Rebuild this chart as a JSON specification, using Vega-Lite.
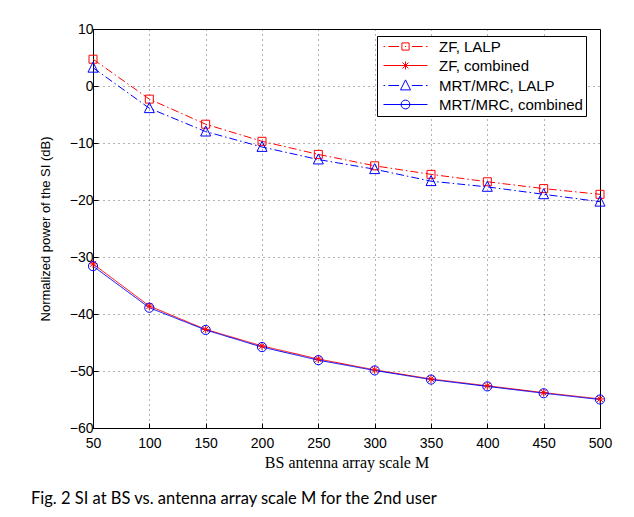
{
  "$schema": "https://vega.github.io/schema/vega-lite/v6.json",
  "width": 507,
  "height": 399,
  "autosize": "none",
  "padding": {"left": 93, "top": 29, "right": 34, "bottom": 89},
  "background": "white",
  "config": {
    "view": {"stroke": "black", "strokeWidth": 1},
    "axis": {
      "grid": true,
      "gridDash": [1, 4],
      "gridColor": "#000000",
      "gridOpacity": 0.6,
      "tickSize": -5,
      "tickColor": "#000000",
      "domainColor": "#000000",
      "labelFont": "Liberation Sans",
      "labelFontSize": 14,
      "labelColor": "#000000",
      "labelFlush": false,
      "labelOverlap": false,
      "titleColor": "#000000",
      "titleFontWeight": "normal"
    },
    "legend": {
      "orient": "none",
      "legendX": 284,
      "legendY": 7,
      "strokeColor": "black",
      "fillColor": "white",
      "padding": 3,
      "labelFont": "Liberation Sans",
      "labelFontSize": 15,
      "labelColor": "#000000",
      "symbolSize": 64,
      "symbolStrokeWidth": 1,
      "symbolOpacity": 1,
      "symbolOffset": 18,
      "labelOffset": 26,
      "rowPadding": 3
    }
  },
  "title": {
    "text": "Fig. 2 SI at BS vs. antenna array scale M for the 2nd user",
    "orient": "bottom",
    "anchor": "start",
    "frame": "group",
    "font": "Lato",
    "fontSize": 16.5,
    "fontWeight": "normal",
    "color": "#000000",
    "offset": 21,
    "dx": -62
  },
  "data": {
    "values": [
      {"series": "ZF, LALP", "M": 50, "power": 4.7},
      {"series": "ZF, LALP", "M": 100, "power": -2.3},
      {"series": "ZF, LALP", "M": 150, "power": -6.7},
      {"series": "ZF, LALP", "M": 200, "power": -9.7},
      {"series": "ZF, LALP", "M": 250, "power": -12.0},
      {"series": "ZF, LALP", "M": 300, "power": -14.0},
      {"series": "ZF, LALP", "M": 350, "power": -15.5},
      {"series": "ZF, LALP", "M": 400, "power": -16.8},
      {"series": "ZF, LALP", "M": 450, "power": -18.0},
      {"series": "ZF, LALP", "M": 500, "power": -19.0},
      {"series": "ZF, combined", "M": 50, "power": -31.2},
      {"series": "ZF, combined", "M": 100, "power": -38.6},
      {"series": "ZF, combined", "M": 150, "power": -42.7},
      {"series": "ZF, combined", "M": 200, "power": -45.6},
      {"series": "ZF, combined", "M": 250, "power": -47.9},
      {"series": "ZF, combined", "M": 300, "power": -49.8},
      {"series": "ZF, combined", "M": 350, "power": -51.4},
      {"series": "ZF, combined", "M": 400, "power": -52.6},
      {"series": "ZF, combined", "M": 450, "power": -53.8},
      {"series": "ZF, combined", "M": 500, "power": -54.9},
      {"series": "MRT/MRC, LALP", "M": 50, "power": 3.2},
      {"series": "MRT/MRC, LALP", "M": 100, "power": -3.9},
      {"series": "MRT/MRC, LALP", "M": 150, "power": -8.0},
      {"series": "MRT/MRC, LALP", "M": 200, "power": -10.7},
      {"series": "MRT/MRC, LALP", "M": 250, "power": -12.9},
      {"series": "MRT/MRC, LALP", "M": 300, "power": -14.6},
      {"series": "MRT/MRC, LALP", "M": 350, "power": -16.7},
      {"series": "MRT/MRC, LALP", "M": 400, "power": -17.7},
      {"series": "MRT/MRC, LALP", "M": 450, "power": -19.0},
      {"series": "MRT/MRC, LALP", "M": 500, "power": -20.3},
      {"series": "MRT/MRC, combined", "M": 50, "power": -31.6},
      {"series": "MRT/MRC, combined", "M": 100, "power": -38.9},
      {"series": "MRT/MRC, combined", "M": 150, "power": -42.8},
      {"series": "MRT/MRC, combined", "M": 200, "power": -45.8},
      {"series": "MRT/MRC, combined", "M": 250, "power": -48.1},
      {"series": "MRT/MRC, combined", "M": 300, "power": -49.9},
      {"series": "MRT/MRC, combined", "M": 350, "power": -51.5},
      {"series": "MRT/MRC, combined", "M": 400, "power": -52.7},
      {"series": "MRT/MRC, combined", "M": 450, "power": -53.9},
      {"series": "MRT/MRC, combined", "M": 500, "power": -55.0}
    ]
  },
  "encoding": {
    "x": {
      "field": "M",
      "type": "quantitative",
      "scale": {"domain": [50, 500], "nice": false, "zero": false},
      "axis": {
        "values": [50, 100, 150, 200, 250, 300, 350, 400, 450, 500],
        "title": "BS antenna array scale M",
        "titleFont": "Liberation Serif",
        "titleFontSize": 16,
        "labelPadding": 13,
        "titlePadding": 4
      }
    },
    "y": {
      "field": "power",
      "type": "quantitative",
      "scale": {"domain": [-60, 10], "nice": false, "zero": false},
      "axis": {
        "values": [-60, -50, -40, -30, -20, -10, 0, 10],
        "title": "Normalized power of the SI (dB)",
        "titleFont": "Liberation Sans",
        "titleFontSize": 13,
        "labelPadding": 5,
        "titlePadding": 17
      }
    }
  },
  "layer": [
    {
      "mark": {"type": "line", "strokeWidth": 1},
      "encoding": {
        "color": {
          "field": "series",
          "type": "nominal",
          "scale": {"domain": ["ZF, LALP", "ZF, combined", "MRT/MRC, LALP", "MRT/MRC, combined"], "range": ["#ff0000", "#ff0000", "#0000ff", "#0000ff"]},
          "legend": null
        },
        "strokeDash": {
          "field": "series",
          "type": "nominal",
          "scale": {"domain": ["ZF, LALP", "ZF, combined", "MRT/MRC, LALP", "MRT/MRC, combined"], "range": [[8, 3, 1.5, 3], [1, 0], [8, 3, 1.5, 3], [1, 0]]},
          "legend": null
        },
        "order": {"field": "M"}
      }
    },
    {
      "mark": {"type": "point", "filled": false, "size": 64, "strokeWidth": 1, "opacity": 1},
      "encoding": {
        "color": {
          "field": "series",
          "type": "nominal",
          "scale": {"domain": ["ZF, LALP", "ZF, combined", "MRT/MRC, LALP", "MRT/MRC, combined"], "range": ["#ff0000", "#ff0000", "#0000ff", "#0000ff"]},
          "legend": null
        },
        "shape": {
          "field": "series",
          "type": "nominal",
          "scale": {"domain": ["ZF, LALP", "ZF, combined", "MRT/MRC, LALP", "MRT/MRC, combined"], "range": ["M-1,-1H1V1H-1Z", "M0,-1V1M-1,0H1M-0.75,-0.75L0.75,0.75M-0.75,0.75L0.75,-0.75", "M0,-1.4L1.25,1.1H-1.25Z", "M-1.15,0A1.15,1.15 0 1,0 1.15,0A1.15,1.15 0 1,0 -1.15,0"]},
          "legend": null
        }
      }
    },
    {
      "mark": {"type": "point", "filled": false, "size": 64, "strokeWidth": 1, "opacity": 0},
      "encoding": {
        "color": {
          "field": "series",
          "type": "nominal",
          "scale": {"domain": ["ZF, LALP", "ZF, combined", "MRT/MRC, LALP", "MRT/MRC, combined"], "range": ["#ff0000", "#ff0000", "#0000ff", "#0000ff"]},
          "legend": {"title": null, "symbolOpacity": 1}
        },
        "shape": {
          "field": "series",
          "type": "nominal",
          "scale": {"domain": ["ZF, LALP", "ZF, combined", "MRT/MRC, LALP", "MRT/MRC, combined"], "range": ["M-5.5,0H-5.1M-4.3,0H-1.6M-0.15,0H0.15M1.6,0H4.3M5.1,0H5.5M-0.9,-0.9H0.9V0.9H-0.9Z", "M-5.5,0H5.5M0,-1V1M-1,0H1M-0.75,-0.75L0.75,0.75M-0.75,0.75L0.75,-0.75", "M-5.5,0H-5.1M-4.3,0H-1.6M1.6,0H4.3M5.1,0H5.5M0,-1.4L1.25,1.1H-1.25Z", "M-5.5,0H5.5M-1.1,0A1.1,1.1 0 1,0 1.1,0A1.1,1.1 0 1,0 -1.1,0"]},
          "legend": {"title": null, "symbolOpacity": 1}
        }
      }
    }
  ],
  "resolve": {"scale": {"shape": "independent", "color": "independent", "strokeDash": "independent"}}
}
